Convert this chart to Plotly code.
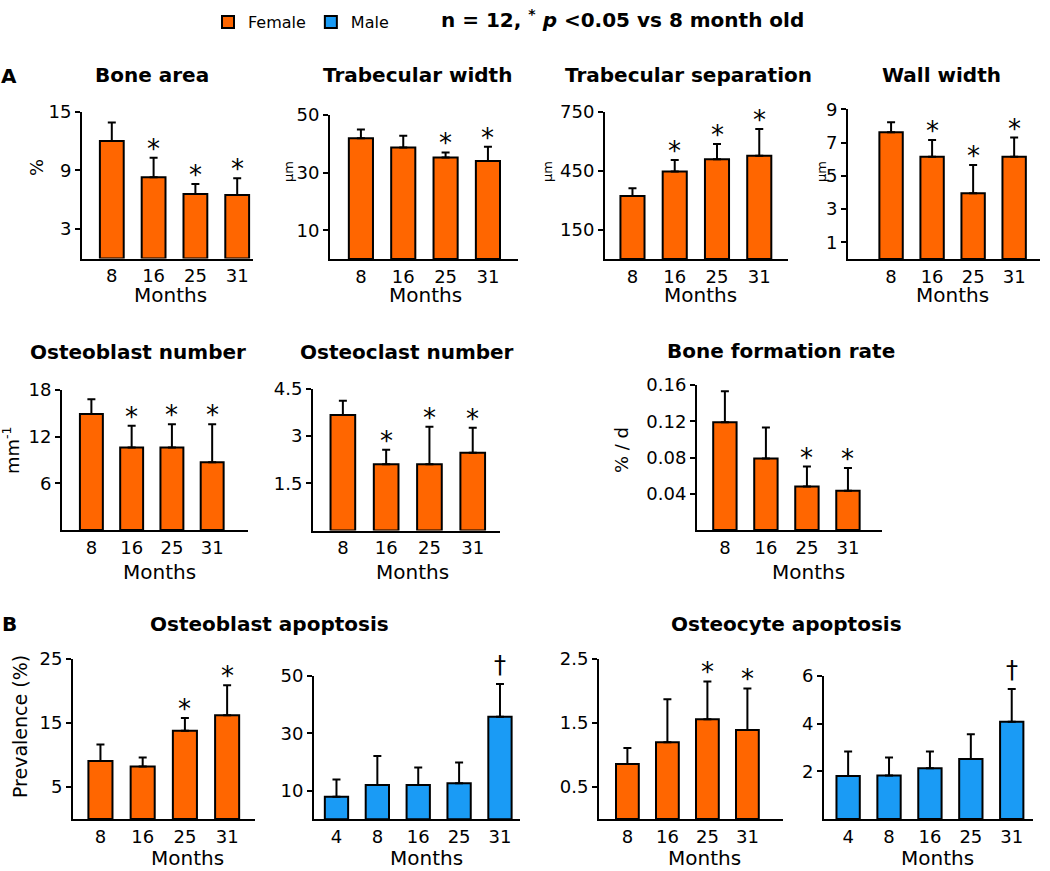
import plotly.graph_objects as go

# ---------------- data ----------------
months_f = ["8", "16", "25", "31"]
months_m = ["4", "8", "16", "25", "31"]

bone_area = [12.0, 8.3, 6.6, 6.5]
bone_area_err = [1.9, 2.0, 1.0, 1.7]
bone_area_sig = ["", "*", "*", "*"]

trab_width = [41.9, 38.7, 35.2, 34.0]
trab_width_err = [3.1, 4.1, 1.8, 5.0]
trab_width_sig = ["", "", "*", "*"]

trab_sep = [321, 445, 508, 526]
trab_sep_err = [39, 59, 78, 136]
trab_sep_sig = ["", "*", "*", "*"]

wall_width = [7.62, 6.15, 3.95, 6.15]
wall_width_err = [0.6, 1.0, 1.7, 1.15]
wall_width_sig = ["", "*", "*", "*"]

ob_number = [14.9, 10.6, 10.6, 8.7]
ob_number_err = [1.9, 2.8, 3.0, 4.9]
ob_number_sig = ["", "*", "*", "*"]

oc_number = [3.67, 2.11, 2.11, 2.47]
oc_number_err = [0.46, 0.46, 1.19, 0.80]
oc_number_sig = ["", "*", "*", "*"]

bfr = [0.119, 0.079, 0.048, 0.0434]
bfr_err = [0.034, 0.034, 0.022, 0.025]
bfr_sig = ["", "", "*", "*"]

ob_apop_f = [9.06, 8.2, 13.8, 16.2]
ob_apop_f_err = [2.6, 1.4, 2.0, 4.7]
ob_apop_f_sig = ["", "", "*", "*"]

ob_apop_m = [7.9, 12.0, 12.0, 12.6, 35.8]
ob_apop_m_err = [6.0, 10.1, 6.1, 7.2, 11.4]
ob_apop_m_sig = ["", "", "", "", "†"]

ocy_apop_f = [0.86, 1.2, 1.56, 1.39]
ocy_apop_f_err = [0.25, 0.67, 0.59, 0.65]
ocy_apop_f_sig = ["", "", "*", "*"]

ocy_apop_m = [1.8, 1.82, 2.13, 2.52, 4.08]
ocy_apop_m_err = [1.03, 0.76, 0.70, 1.04, 1.37]
ocy_apop_m_sig = ["", "", "", "", "†"]

# ---------------- style / layout ----------------
W, H = 1050, 871
FONT = "DejaVu Sans"
ORANGE = "#FF6600"
BLUE = "#1A9BF5"


def px(x):
    return x / W


def py(y):
    return 1 - y / H


panels = [
    dict(v=bone_area, e=bone_area_err, s=bone_area_sig, c=months_f, col=ORANGE, ymax=15,
         tv=[3, 9, 15], tt=None, L=82, R=253, T=111.7, B=258.5, xlo=-0.713, xhi=3.378,
         yt="%", ytp=(36, 168), yts=18, mp=(170, 295)),
    dict(v=trab_width, e=trab_width_err, s=trab_width_sig, c=months_f, col=ORANGE, ymax=50,
         tv=[10, 30, 50], tt=None, L=330, R=518, T=115, B=259, xlo=-0.73, xhi=3.71,
         yt="µm", ytp=(289, 172), yts=13, mp=(425, 295)),
    dict(v=trab_sep, e=trab_sep_err, s=trab_sep_sig, c=months_f, col=ORANGE, ymax=750,
         tv=[150, 450, 750], tt=None, L=605, R=788, T=111.7, B=259, xlo=-0.65, xhi=3.68,
         yt="µm", ytp=(548, 172), yts=13, mp=(700, 295)),
    dict(v=wall_width, e=wall_width_err, s=wall_width_sig, c=months_f, col=ORANGE, ymax=9,
         tv=[1, 3, 5, 7, 9], tt=None, L=848, R=1040, T=109.3, B=259, xlo=-1.05, xhi=3.63,
         yt="µm", ytp=(822, 172), yts=13, mp=(952, 295)),
    dict(v=ob_number, e=ob_number_err, s=ob_number_sig, c=months_f, col=ORANGE, ymax=18,
         tv=[6, 12, 18], tt=None, L=62, R=248, T=390, B=530, xlo=-0.73, xhi=3.89,
         yt="mm<sup>-1</sup>", ytp=(11, 450), yts=18, mp=(159, 572)),
    dict(v=oc_number, e=oc_number_err, s=oc_number_sig, c=months_f, col=ORANGE, ymax=4.5,
         tv=[1.5, 3, 4.5], tt=["1.5", "3", "4.5"], L=313, R=500, T=389, B=530.5, xlo=-0.69, xhi=3.63,
         yt=None, ytp=None, yts=18, mp=(412, 572)),
    dict(v=bfr, e=bfr_err, s=bfr_sig, c=months_f, col=ORANGE, ymax=0.16,
         tv=[0.04, 0.08, 0.12, 0.16], tt=["0.04", "0.08", "0.12", "0.16"], L=697, R=882, T=385, B=530,
         xlo=-0.68, xhi=3.83, yt="% / d", ytp=(622, 450), yts=18, mp=(808, 572)),
    dict(v=ob_apop_f, e=ob_apop_f_err, s=ob_apop_f_sig, c=months_f, col=ORANGE, ymax=25,
         tv=[5, 15, 25], tt=None, L=73, R=255, T=659, B=819, xlo=-0.65, xhi=3.66,
         yt="Prevalence (%)", ytp=(20, 727), yts=19, mp=(187, 858)),
    dict(v=ob_apop_m, e=ob_apop_m_err, s=ob_apop_m_sig, c=months_m, col=BLUE, ymax=50,
         tv=[10, 30, 50], tt=None, L=314, R=520, T=676, B=819.3, xlo=-0.55, xhi=4.49,
         yt=None, ytp=None, yts=18, mp=(426, 858)),
    dict(v=ocy_apop_f, e=ocy_apop_f_err, s=ocy_apop_f_sig, c=months_f, col=ORANGE, ymax=2.5,
         tv=[0.5, 1.5, 2.5], tt=["0.5", "1.5", "2.5"], L=599, R=783, T=659, B=819, xlo=-0.71, xhi=3.89,
         yt=None, ytp=None, yts=18, mp=(704, 858)),
    dict(v=ocy_apop_m, e=ocy_apop_m_err, s=ocy_apop_m_sig, c=months_m, col=BLUE, ymax=6,
         tv=[2, 4, 6], tt=None, L=824, R=1033, T=676, B=819, xlo=-0.59, xhi=4.52,
         yt=None, ytp=None, yts=18, mp=(937, 858)),
]

titles = [
    ("Bone area", 152, 75), ("Trabecular width", 417, 75),
    ("Trabecular separation", 688, 75), ("Wall width", 941, 75),
    ("Osteoblast number", 138, 352), ("Osteoclast number", 407, 352),
    ("Bone formation rate", 781, 351),
    ("Osteoblast apoptosis", 269, 624), ("Osteocyte apoptosis", 786, 624),
    ("A", 9, 76), ("B", 9, 624),
]

fig = go.Figure()
annotations = []
layout_axes = {}
legend_done = set()

for k, p in enumerate(panels, start=1):
    n = len(p["v"])
    xs = list(range(n))
    xa = "x" if k == 1 else f"x{k}"
    ya = "y" if k == 1 else f"y{k}"
    name = "Female" if p["col"] == ORANGE else "Male"
    show = name not in legend_done
    legend_done.add(name)
    fig.add_trace(go.Bar(
        x=xs, y=p["v"], width=0.57, name=name, showlegend=show,
        legendrank=1 if name == "Female" else 2,
        marker=dict(color=p["col"], line=dict(color="black", width=2)),
        error_y=dict(type="data", symmetric=False, array=p["e"], arrayminus=[0] * n,
                     color="black", thickness=2, width=4),
        xaxis=xa, yaxis=ya, hoverinfo="skip",
    ))
    layout_axes["xaxis" if k == 1 else f"xaxis{k}"] = dict(
        domain=[px(p["L"]), px(p["R"])], range=[p["xlo"], p["xhi"]],
        anchor=ya, tickmode="array", tickvals=xs, ticktext=p["c"],
        showline=True, linecolor="black", linewidth=2, ticks="",
        showgrid=False, zeroline=False, fixedrange=True, automargin=False,
        tickfont=dict(family=FONT, size=18, color="black"),
    )
    layout_axes["yaxis" if k == 1 else f"yaxis{k}"] = dict(
        domain=[py(p["B"]), py(p["T"])], range=[0, p["ymax"]],
        anchor=xa, tickmode="array", tickvals=p["tv"],
        ticktext=p["tt"] if p["tt"] else [str(t) for t in p["tv"]],
        showline=True, linecolor="black", linewidth=2, ticks="outside",
        ticklen=5, tickwidth=2, tickcolor="black",
        showgrid=False, zeroline=False, fixedrange=True, automargin=False,
        tickfont=dict(family=FONT, size=18, color="black"),
    )
    for i, (val, err, s) in enumerate(zip(p["v"], p["e"], p["s"])):
        if s:
            annotations.append(dict(
                x=i, y=val + err, xref=xa, yref=ya, text=s, showarrow=False,
                xanchor="center", yanchor="bottom",
                yshift=-8 if s == "*" else 3,
                font=dict(family=FONT, size=26 if s == "*" else 24, color="black"),
            ))
    if p["yt"]:
        annotations.append(dict(
            x=px(p["ytp"][0]), y=py(p["ytp"][1]), xref="paper", yref="paper",
            text=p["yt"], showarrow=False, textangle=-90,
            xanchor="center", yanchor="middle",
            font=dict(family=FONT, size=p["yts"], color="black"),
        ))
    annotations.append(dict(
        x=px(p["mp"][0]), y=py(p["mp"][1]), xref="paper", yref="paper",
        text="Months", showarrow=False, xanchor="center", yanchor="middle",
        font=dict(family=FONT, size=20, color="black"),
    ))

for t, x, y in titles:
    annotations.append(dict(
        x=px(x), y=py(y), xref="paper", yref="paper", text=f"<b>{t}</b>",
        showarrow=False, xanchor="center", yanchor="middle",
        font=dict(family=FONT, size=20, color="black"),
    ))

annotations.append(dict(
    x=px(622), y=py(19), xref="paper", yref="paper",
    text="<b>n = 12, <sup>*</sup> <i>p</i> &lt;0.05 vs 8 month old</b>",
    showarrow=False, xanchor="center", yanchor="middle",
    font=dict(family=FONT, size=20, color="black"),
))

fig.update_layout(
    width=W, height=H, margin=dict(l=0, r=0, t=0, b=0, autoexpand=False),
    paper_bgcolor="white", plot_bgcolor="white",
    font=dict(family=FONT, color="black"),
    showlegend=True,
    legend=dict(orientation="h", x=px(208), y=py(5), xanchor="left", yanchor="top",
                font=dict(family=FONT, size=16, color="black"),
                bgcolor="rgba(0,0,0,0)", traceorder="normal"),
    annotations=annotations,
    **layout_axes,
)

fig.write_html("out.html", config={"displayModeBar": False},
               post_script="document.body.style.margin='0px';")
